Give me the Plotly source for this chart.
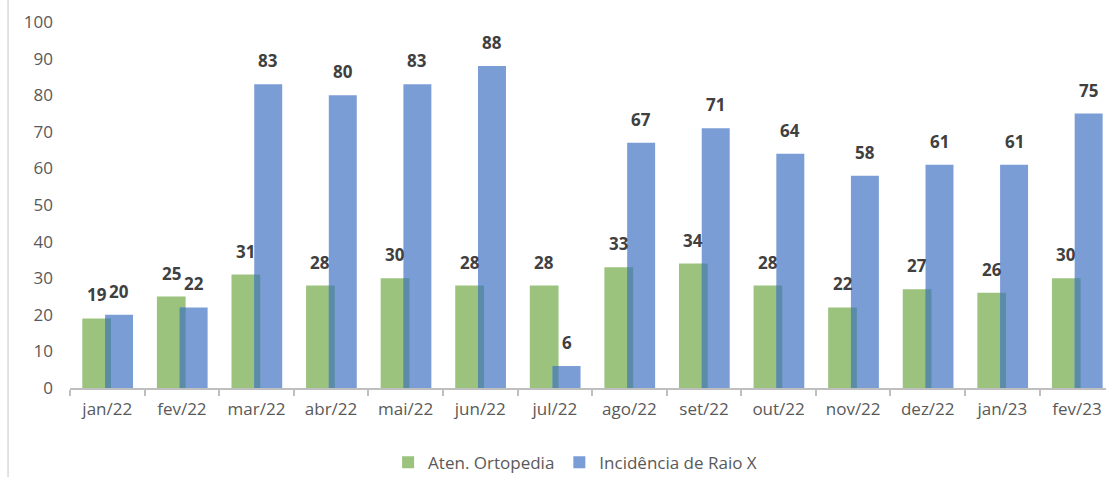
import plotly.graph_objects as go

# -----------------------------
# Data
# -----------------------------
meses = ['jan/22', 'fev/22', 'mar/22', 'abr/22', 'mai/22', 'jun/22', 'jul/22',
         'ago/22', 'set/22', 'out/22', 'nov/22', 'dez/22', 'jan/23', 'fev/23']
ortopedia = [19, 25, 31, 28, 30, 28, 28, 33, 34, 28, 22, 27, 26, 30]
raio_x = [20, 22, 83, 80, 83, 88, 6, 67, 71, 64, 58, 61, 61, 75]

GREEN = '#9BC37E'
BLUE = '#7B9DD6'
OVERLAP = '#5A8CA8'

# bar geometry (in category units)
g_off, g_w = -0.335, 0.385
b_off, b_w = -0.03, 0.375

fig = go.Figure()
fig.add_trace(go.Bar(x=meses, y=ortopedia, name='Aten. Ortopedia',
                     marker=dict(color=GREEN, line=dict(width=0)),
                     offset=g_off, width=g_w))
fig.add_trace(go.Bar(x=meses, y=raio_x, name='Incidência de Raio X',
                     marker=dict(color=BLUE, line=dict(width=0)),
                     offset=b_off, width=b_w))
# darker strip where the two bars overlap
fig.add_trace(go.Bar(x=meses, y=[min(a, b) for a, b in zip(ortopedia, raio_x)],
                     marker=dict(color=OVERLAP, line=dict(width=0)),
                     offset=b_off, width=g_off + g_w - b_off,
                     showlegend=False, hoverinfo='skip'))

# value labels
annotations = []
for i, (a, b) in enumerate(zip(ortopedia, raio_x)):
    for val, off, w in ((a, g_off, g_w), (b, b_off, b_w)):
        annotations.append(dict(x=i + off + w / 2, y=val, xref='x', yref='y',
                                text=f'<b>{val}</b>', showarrow=False,
                                yanchor='bottom', yshift=10,
                                font=dict(size=17, color='#404040',
                                          family='Open Sans')))

fig.update_layout(
    width=1106, height=477,
    barmode='overlay',
    plot_bgcolor='white', paper_bgcolor='white',
    margin=dict(l=70, r=0, t=22, b=89),
    font=dict(family='Open Sans', size=17, color='#595959'),
    annotations=annotations,
    showlegend=True,
    legend=dict(orientation='h', xref='container', yref='container',
                x=0.52, xanchor='center', y=0.03, yanchor='middle',
                font=dict(size=17, color='#595959'), itemwidth=30,
                traceorder='normal'),
    shapes=[dict(type='line', xref='paper', yref='paper',
                 x0=-0.0598, x1=-0.0598, y0=-0.243, y1=1.07,
                 line=dict(color='#D9D9D9', width=1.5))],
)
fig.update_xaxes(range=[-0.5, 13.39], showline=True, linecolor='#BFBFBF', linewidth=2,
                 ticks='outside', tickson='boundaries', ticklen=6, tickcolor='#BFBFBF',
                 tickwidth=2, showgrid=False, ticklabelstandoff=5,
                 tickfont=dict(size=17, color='#595959'))
fig.update_yaxes(range=[0, 100], dtick=10, showgrid=False, showline=False,
                 zeroline=False, ticklabelstandoff=16,
                 tickfont=dict(size=17, color='#595959'))

fig.write_html('out.html', config={'displayModeBar': False},
               post_script="document.body.style.margin='0';")
